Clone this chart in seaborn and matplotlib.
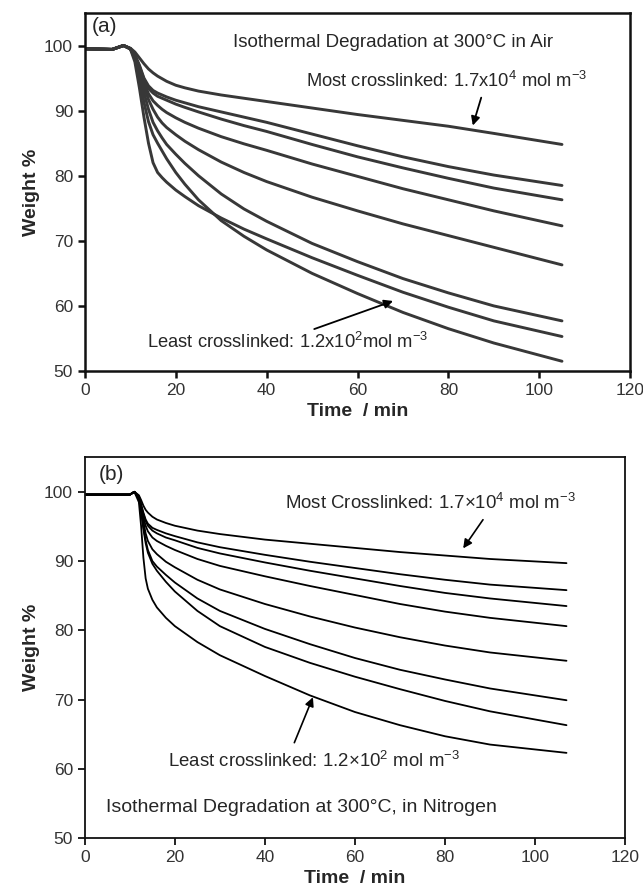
import matplotlib
matplotlib.use('Agg')
import matplotlib.pyplot as plt
import seaborn as sns
import pandas as pd

# ---- panel (a): isothermal degradation in air ----
time_a = [0, 6, 8.5, 10, 11, 12, 13, 14, 15, 16, 17, 18, 20, 22, 25, 30, 35, 40, 50, 60, 70, 80, 90, 105]
air_1 = [99.5, 99.4, 100.0, 99.6, 99.0, 98.1, 97.2, 96.4, 95.8, 95.3, 94.9, 94.5, 93.9, 93.5, 93.0, 92.4, 91.9, 91.4, 90.4, 89.4, 88.5, 87.6, 86.5, 84.8]
air_2 = [99.5, 99.4, 100.0, 99.5, 98.6, 97.0, 95.0, 93.8, 93.1, 92.7, 92.4, 92.1, 91.6, 91.2, 90.6, 89.8, 89.0, 88.2, 86.4, 84.6, 82.9, 81.4, 80.1, 78.5]
air_3 = [99.5, 99.4, 100.0, 99.5, 98.5, 96.8, 94.8, 93.4, 92.7, 92.2, 91.9, 91.6, 91.0, 90.5, 89.8, 88.7, 87.7, 86.8, 84.8, 82.9, 81.2, 79.6, 78.1, 76.3]
air_4 = [99.5, 99.4, 100.0, 99.5, 98.4, 96.5, 94.3, 92.6, 91.5, 90.8, 90.2, 89.7, 88.9, 88.2, 87.3, 86.0, 84.9, 83.9, 81.8, 79.9, 78.0, 76.3, 74.6, 72.3]
air_5 = [99.5, 99.4, 100.0, 99.5, 98.3, 96.2, 93.8, 91.7, 90.2, 89.0, 88.1, 87.4, 86.3, 85.3, 84.0, 82.1, 80.5, 79.1, 76.7, 74.6, 72.6, 70.8, 69.0, 66.3]
air_6 = [99.5, 99.4, 100.0, 99.5, 98.2, 95.8, 92.8, 90.2, 88.2, 86.9, 85.8, 84.8, 83.3, 81.9, 80.0, 77.2, 74.9, 73.0, 69.6, 66.8, 64.2, 62.0, 60.0, 57.7]
air_7 = [99.5, 99.4, 100.0, 99.5, 97.5, 93.5, 89.0, 85.0, 82.0, 80.5, 79.7, 79.0, 77.8, 76.8, 75.4, 73.5, 71.8, 70.3, 67.4, 64.7, 62.1, 59.8, 57.7, 55.3]
air_8 = [99.5, 99.4, 100.0, 99.5, 98.0, 95.0, 91.3, 88.3, 86.3, 85.0, 83.8, 82.6, 80.5, 78.7, 76.3, 73.1, 70.7, 68.6, 65.0, 61.9, 59.0, 56.5, 54.3, 51.5]

# ---- panel (b): isothermal degradation in nitrogen ----
time_b = [0, 10, 11, 12, 12.5, 13, 13.5, 14, 15, 16, 18, 20, 25, 30, 40, 50, 60, 70, 80, 90, 107]
n2_1 = [99.6, 99.6, 100.0, 99.5, 98.8, 98.0, 97.4, 97.0, 96.4, 96.0, 95.5, 95.1, 94.4, 93.9, 93.1, 92.5, 91.9, 91.3, 90.8, 90.3, 89.7]
n2_2 = [99.6, 99.6, 100.0, 99.3, 98.2, 97.0, 96.0, 95.4, 94.8, 94.5, 94.0, 93.6, 92.7, 92.0, 90.9, 89.9, 89.0, 88.1, 87.3, 86.6, 85.8]
n2_3 = [99.6, 99.6, 100.0, 99.3, 98.0, 96.8, 95.8, 95.1, 94.4, 94.0, 93.4, 93.0, 91.9, 91.1, 89.8, 88.6, 87.5, 86.4, 85.4, 84.6, 83.5]
n2_4 = [99.6, 99.6, 100.0, 99.2, 97.8, 96.3, 95.1, 94.3, 93.4, 92.9, 92.2, 91.6, 90.3, 89.3, 87.8, 86.4, 85.1, 83.8, 82.7, 81.8, 80.6]
n2_5 = [99.6, 99.6, 100.0, 99.1, 97.5, 95.7, 94.0, 92.9, 91.7, 91.0, 89.9, 89.1, 87.3, 85.9, 83.8, 82.0, 80.4, 79.0, 77.8, 76.8, 75.6]
n2_6 = [99.6, 99.6, 100.0, 99.0, 97.2, 95.0, 93.0, 91.6, 90.0, 89.2, 88.0, 86.9, 84.6, 82.8, 80.2, 78.0, 76.0, 74.3, 72.9, 71.6, 69.9]
n2_7 = [99.6, 99.6, 100.0, 99.0, 97.0, 94.6, 92.6, 91.2, 89.6, 88.6, 87.0, 85.6, 82.8, 80.6, 77.6, 75.3, 73.3, 71.5, 69.8, 68.3, 66.3]
n2_8 = [99.6, 99.6, 100.0, 98.5, 95.0, 90.5, 87.5, 86.0, 84.4, 83.3, 81.8, 80.6, 78.3, 76.4, 73.4, 70.6, 68.2, 66.3, 64.7, 63.5, 62.3]


def long_frame(times, curves):
    rows = []
    for i, vals in enumerate(curves):
        for t, w in zip(times, vals):
            rows.append({'time': t, 'weight': w, 'sample': i})
    return pd.DataFrame(rows)


df_a = long_frame(time_a, [air_1, air_2, air_3, air_4, air_5, air_6, air_7, air_8])
df_b = long_frame(time_b, [n2_1, n2_2, n2_3, n2_4, n2_5, n2_6, n2_7, n2_8])

sns.set_style('ticks')
plt.rcParams['font.family'] = ['Liberation Sans', 'DejaVu Sans']
plt.rcParams['mathtext.fontset'] = 'custom'
plt.rcParams['mathtext.rm'] = 'Liberation Sans'
plt.rcParams['mathtext.it'] = 'Liberation Sans'

fig = plt.figure(figsize=(6.43, 8.94), dpi=100)
ax1 = fig.add_axes([0.132, 0.585, 0.848, 0.4005])
ax2 = fig.add_axes([0.132, 0.0626, 0.840, 0.426])

sns.lineplot(data=df_a, x='time', y='weight', units='sample', estimator=None,
             color='#383838', linewidth=2.1, ax=ax1, legend=False)
sns.lineplot(data=df_b, x='time', y='weight', units='sample', estimator=None,
             color='black', linewidth=1.3, ax=ax2, legend=False)

for ax, lw in ((ax1, 1.8), (ax2, 1.3)):
    ax.set_xlim(0, 120)
    ax.set_ylim(50, 105)
    ax.set_xticks(range(0, 121, 20))
    ax.set_yticks(range(50, 101, 10))
    ax.tick_params(direction='out', length=5, width=lw, labelsize=12.5,
                   colors='#111111', labelcolor='#333333')
    for sp in ax.spines.values():
        sp.set_visible(True)
        sp.set_linewidth(lw)
        sp.set_color('#111111')
    ax.set_xlabel('Time  / min', fontsize=14, fontweight='bold', labelpad=4)
    ax.set_ylabel('Weight %', fontsize=14, fontweight='bold', labelpad=3)

# panel (a) annotations
ax1.text(0.012, 0.99, '(a)', transform=ax1.transAxes, fontsize=15, va='top', ha='left')
ax1.text(32.7, 100.4, 'Isothermal Degradation at 300°C in Air', fontsize=13.5,
         va='center', ha='left')
ax1.text(48.6, 94.5, 'Most crosslinked: 1.7x10$^{4}$ mol m$^{-3}$', fontsize=13.2,
         va='center', ha='left')
ax1.annotate('', xy=(85.2, 87.3), xytext=(87.4, 92.4),
             arrowprops=dict(arrowstyle='-|>', color='black', lw=1.3, mutation_scale=13))
ax1.text(13.7, 54.5, 'Least crosslinked: 1.2x10$^{2}$mol m$^{-3}$', fontsize=13.2,
         va='center', ha='left')
ax1.annotate('', xy=(68.4, 60.9), xytext=(49.9, 56.3),
             arrowprops=dict(arrowstyle='-|>', color='black', lw=1.3, mutation_scale=13))

# panel (b) annotations
ax2.text(0.025, 0.98, '(b)', transform=ax2.transAxes, fontsize=15, va='top', ha='left')
ax2.text(44.5, 98.4, 'Most Crosslinked: 1.7×10$^{4}$ mol m$^{-3}$', fontsize=13.4,
         va='center', ha='left')
ax2.annotate('', xy=(83.7, 91.5), xytext=(88.8, 96.3),
             arrowprops=dict(arrowstyle='-|>', color='black', lw=1.2, mutation_scale=13))
ax2.text(18.4, 61.2, 'Least crosslinked: 1.2×10$^{2}$ mol m$^{-3}$', fontsize=13.4,
         va='center', ha='left')
ax2.annotate('', xy=(50.9, 70.7), xytext=(46.3, 63.4),
             arrowprops=dict(arrowstyle='-|>', color='black', lw=1.2, mutation_scale=13))
ax2.text(4.6, 54.4, 'Isothermal Degradation at 300°C, in Nitrogen', fontsize=14,
         va='center', ha='left')

fig.savefig('out.png', dpi=100, facecolor='white')
